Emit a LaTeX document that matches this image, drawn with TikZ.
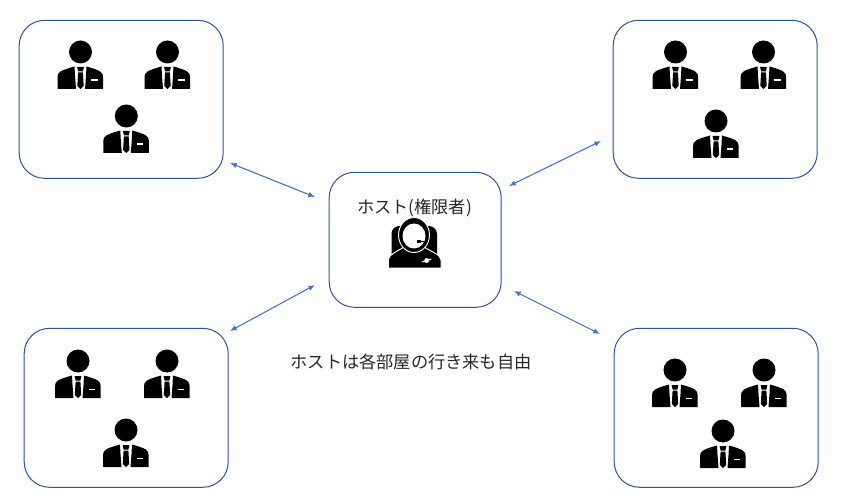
\documentclass[tikz,border=0pt]{standalone}
\usepackage{fontspec}
\setmainfont{Noto Sans CJK JP}
\definecolor{roomline}{rgb}{0.18,0.33,0.59}
\definecolor{arrowline}{rgb}{0.27,0.45,0.77}
\definecolor{labeltext}{rgb}{0.15,0.15,0.15}
\usetikzlibrary{arrows.meta}
\tikzset{
  room/.style={draw=roomline,line width=0.75pt,rounded corners=19pt,fill=white,inner sep=0pt},
  link/.style={draw=arrowline,line width=0.8pt,{Latex[length=5pt,width=4pt]}-{Latex[length=5pt,width=4pt]}},
  label/.style={text=labeltext,font=\fontsize{12.9pt}{15pt}\selectfont,inner sep=0pt},
  person/.pic={
    \fill (0,0) circle (11.5);
    \fill (-23,37) -- (-23,25) .. controls (-23,20) and (-20,18.5) .. (-6,14.5) -- (-5.5,24) -- (-4.5,37) -- cycle;
    \fill (22.6,37) -- (22.6,25) .. controls (22.6,20) and (20,18.5) .. (6,14.5) -- (5.5,24) -- (4.5,37) -- cycle;
    \fill (-3.4,15) -- (3.4,15) -- (2.4,19.5) -- (-2.4,19.5) -- cycle;
    \fill (-2.4,20.5) -- (2.4,20.5) -- (3.2,34) -- (0,37) -- (-3.2,34) -- cycle;
    \fill[white] (10.5,27.5) rectangle (17,29);
  },
  hostman/.pic={
    \fill (-22.5,17) -- (-22.5,-3) .. controls (-22.5,-8) and (-19,-11) .. (-14,-11) -- (14,-11) .. controls (19,-11) and (23,-8) .. (23,-3) -- (23,17) -- cycle;
    \fill[draw=white,line width=0.7pt] (-25.7,31) -- (-25.7,23) .. controls (-25.7,18) and (-18,15) .. (-10,10) -- (10,10) .. controls (18,15) and (27,18) .. (27,23) -- (27,31) -- cycle;
    \fill[draw=white,line width=0.7pt] (0,-2) ellipse (15.5 and 17.5);
    \fill[white] (0,-1) ellipse (11.5 and 12.5);
    \draw[line width=1pt] (4,4.5) -- (11.5,4.5);
    \fill (3,3.2) rectangle (7,5.8);
    \fill[white,rotate around={18:(12.7,23.5)}] (12.7,23.5) ellipse (5.5 and 0.9);
    \fill[white] (12.7,23.5) circle (2.4);
  },
}
\begin{document}
\begin{tikzpicture}[x=0.75pt,y=-0.75pt]
\useasboundingbox (0,0) rectangle (841,498);
\node[room,minimum width=153pt,minimum height=118.5pt] (room1) at (121.2,99.3) {};
\node[room,minimum width=153pt,minimum height=118.5pt] (room2) at (715.2,99.3) {};
\node[room,minimum width=153pt,minimum height=119.25pt] (room3) at (126.2,407.8) {};
\node[room,minimum width=153pt,minimum height=119.25pt] (room4) at (716.2,407.8) {};
\node[room,minimum width=129pt,minimum height=101.25pt] (host) at (415.2,239.8) {};
\pic at (80.5,52) {person};
\pic at (167.5,52) {person};
\pic at (126.3,116) {person};
\pic at (675.5,52) {person};
\pic at (763.5,52) {person};
\pic at (716,121) {person};
\pic at (78,361) {person};
\pic at (167,361) {person};
\pic at (126,430) {person};
\pic at (675,370) {person};
\pic at (764,370) {person};
\pic at (723,431) {person};
\pic at (414,237) {hostman};
\node[label] (hostname) at (414.5,208) {ホスト(権限者)};
\node[label] (note) at (411,362) {ホストは各部屋の行き来も自由};
\coordinate (r1end) at (230,163);
\coordinate (h1end) at (315,197);
\coordinate (r2end) at (601,141);
\coordinate (h2end) at (509,186);
\coordinate (r3end) at (230,331);
\coordinate (h3end) at (315,285);
\coordinate (r4end) at (600,334);
\coordinate (h4end) at (514,291);
\draw[link] (r1end) -- (h1end);
\draw[link] (r2end) -- (h2end);
\draw[link] (r3end) -- (h3end);
\draw[link] (r4end) -- (h4end);
\end{tikzpicture}
\end{document}
